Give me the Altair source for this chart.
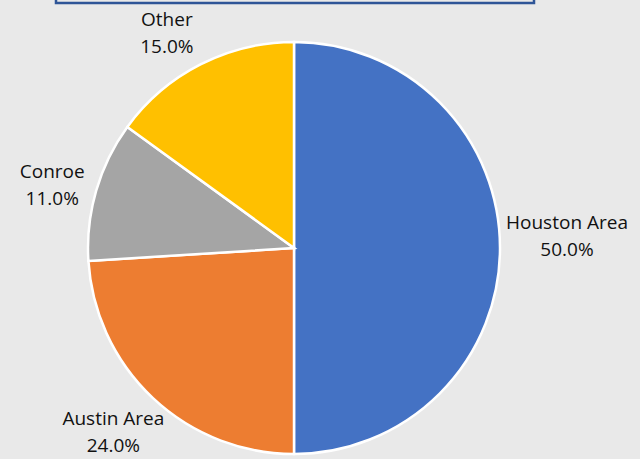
import altair as alt
import pandas as pd

categories = ["Houston Area", "Austin Area", "Conroe", "Other"]
values = [50.0, 24.0, 11.0, 15.0]
colors = ["#4472C4", "#ED7D31", "#A5A5A5", "#FFC000"]

df = pd.DataFrame({
    "category": categories,
    "value": values,
    "order": list(range(len(categories))),
    "label": [f"{c}\n{v:.1f}%" for c, v in zip(categories, values)],
})

base = alt.Chart(df).encode(
    theta=alt.Theta("value:Q", stack=True),
    order=alt.Order("order:Q"),
)

pie = base.mark_arc(stroke="white", strokeWidth=2.5).encode(
    color=alt.Color("category:N", scale=alt.Scale(domain=categories, range=colors), legend=None),
    x=alt.value(294),
    y=alt.value(248),
    radius=alt.value(206),
)

# per-label offsets (Excel "best fit" placement)
offsets = {"Houston Area": (15, -25), "Austin Area": (-4, -17), "Conroe": (6, -4), "Other": (-10, 2)}

label_layers = []
for cat in categories:
    dx, dy = offsets[cat]
    label_layers.append(
        base.mark_text(
            font="Open Sans", fontSize=19, color="#111111", lineBreak="\n", lineHeight=27,
            align="center", baseline="middle", dx=dx, dy=dy,
        ).encode(
            text=alt.condition(alt.datum.category == cat, "label:N", alt.value("")),
            x=alt.value(294),
            y=alt.value(248),
            radius=alt.value(258),
        )
    )

box = alt.Chart(pd.DataFrame({"a": [0]})).mark_rect(
    fill="#E9E9E9", stroke="#2F5597", strokeWidth=2.5
).encode(
    x=alt.value(56), x2=alt.value(534), y=alt.value(-10), y2=alt.value(3)
)

chart = alt.layer(box, pie, *label_layers).properties(
    width=640, height=459, background="#E9E9E9", padding=0,
    autosize=alt.AutoSizeParams(type="none"),
).configure_view(stroke=None)

chart.save("out.html", embed_options={"renderer": "svg", "actions": False})
